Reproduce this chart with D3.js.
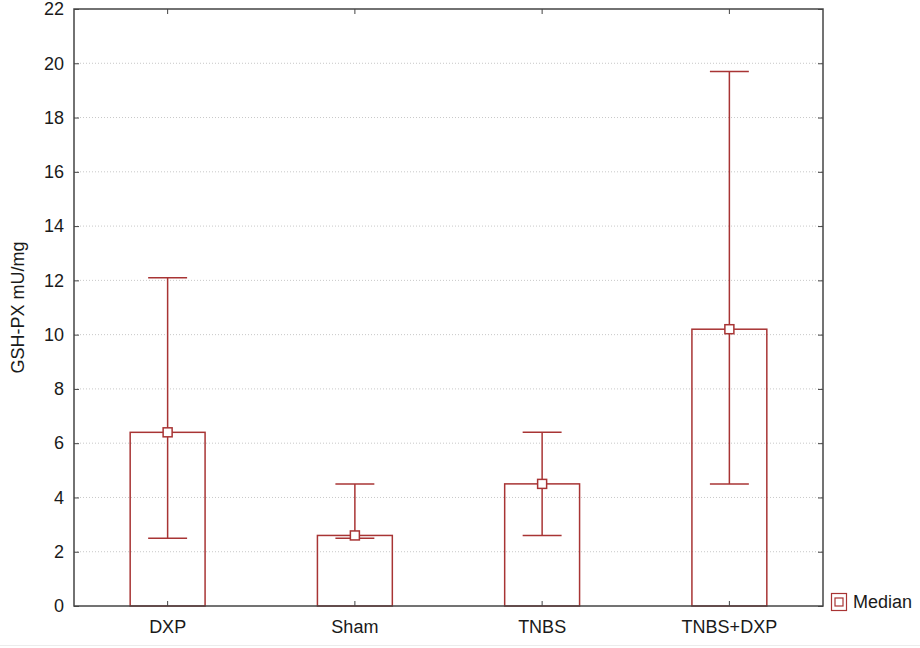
<!DOCTYPE html>
<html>
<head>
<meta charset="utf-8">
<script src="https://cdn.jsdelivr.net/npm/d3@7"></script>
<style>
  html, body { margin: 0; padding: 0; background: #fff; }
  svg { display: block; font-family: "Liberation Sans", Arial, sans-serif; }
</style>
</head>
<body>
<svg id="chart" width="920" height="648"></svg>
<script>
// GSH-PX activity per group: median with min–max range
const categories = ["DXP", "Sham", "TNBS", "TNBS+DXP"];
const medians = [6.4, 2.6, 4.5, 10.2];
const lows = [2.5, 2.5, 2.6, 4.5];
const highs = [12.1, 4.5, 6.4, 19.7];
const yTicks = [0, 2, 4, 6, 8, 10, 12, 14, 16, 18, 20, 22];
const yLabel = "GSH-PX mU/mg";
const legendLabel = "Median";

const W = 920, H = 648;
const plot = { left: 74, right: 823, top: 9, bottom: 606 };
const RED = "#a83434";
const AXIS = "#444";

const svg = d3.select("#chart");

const x = d3.scaleBand().domain(categories).range([plot.left, plot.right]).padding(0);
const y = d3.scaleLinear().domain([0, 22]).range([plot.bottom, plot.top]);

const rows = categories.map((c, i) => ({ cat: c, med: medians[i], lo: lows[i], hi: highs[i] }));
const barW = x.bandwidth() * 0.4;
const capW = barW * 0.52;
const cx = d => x(d.cat) + x.bandwidth() / 2;

// dotted horizontal grid
svg.append("g").selectAll("line")
  .data(yTicks.filter(t => t > 0 && t < 22))
  .join("line")
  .attr("x1", plot.left).attr("x2", plot.right)
  .attr("y1", d => y(d)).attr("y2", d => y(d))
  .attr("stroke", "#c8c8c8").attr("stroke-width", 1)
  .attr("stroke-dasharray", "1,2");

// bars up to the median
svg.append("g").selectAll("rect")
  .data(rows)
  .join("rect")
  .attr("x", d => cx(d) - barW / 2)
  .attr("width", barW)
  .attr("y", d => y(d.med))
  .attr("height", d => y(0) - y(d.med))
  .attr("fill", "none")
  .attr("stroke", RED).attr("stroke-width", 1.5);

// whiskers
const wg = svg.append("g").attr("stroke", RED).attr("stroke-width", 1.5);
wg.selectAll(".stem").data(rows).join("line")
  .attr("x1", cx).attr("x2", cx)
  .attr("y1", d => y(d.lo)).attr("y2", d => y(d.hi));
wg.selectAll(".capHi").data(rows).join("line")
  .attr("x1", d => cx(d) - capW / 2).attr("x2", d => cx(d) + capW / 2)
  .attr("y1", d => y(d.hi)).attr("y2", d => y(d.hi));
wg.selectAll(".capLo").data(rows).join("line")
  .attr("x1", d => cx(d) - capW / 2).attr("x2", d => cx(d) + capW / 2)
  .attr("y1", d => y(d.lo)).attr("y2", d => y(d.lo));

// median markers
svg.append("g").selectAll("rect")
  .data(rows)
  .join("rect")
  .attr("x", d => cx(d) - 4.5).attr("y", d => y(d.med) - 4.5)
  .attr("width", 9).attr("height", 9)
  .attr("fill", "#fff").attr("stroke", RED).attr("stroke-width", 1.5);

// axes with inward ticks
const tickLen = 5;
const yAxisL = d3.axisLeft(y).tickValues(yTicks).tickSize(-tickLen).tickPadding(10);
const gL = svg.append("g").attr("transform", `translate(${plot.left},0)`).call(yAxisL);
gL.select(".domain").remove();
gL.selectAll("line").attr("stroke", AXIS);
gL.selectAll("text").attr("font-size", 18).attr("fill", "#1a1a1a")
  .attr("font-family", "Liberation Sans, Arial, sans-serif");

const yAxisR = d3.axisRight(y).tickValues(yTicks).tickSize(-tickLen).tickFormat("");
const gR = svg.append("g").attr("transform", `translate(${plot.right},0)`).call(yAxisR);
gR.select(".domain").remove();
gR.selectAll("line").attr("stroke", AXIS);

const xAxisB = d3.axisBottom(x).tickSize(-tickLen).tickPadding(14);
const gB = svg.append("g").attr("transform", `translate(0,${plot.bottom})`).call(xAxisB);
gB.select(".domain").remove();
gB.selectAll("line").attr("stroke", AXIS);
gB.selectAll("text").attr("font-size", 18).attr("fill", "#1a1a1a")
  .attr("font-family", "Liberation Sans, Arial, sans-serif");

const xAxisT = d3.axisTop(x).tickSize(-tickLen).tickFormat("");
const gT = svg.append("g").attr("transform", `translate(0,${plot.top})`).call(xAxisT);
gT.select(".domain").remove();
gT.selectAll("line").attr("stroke", AXIS);

// plot frame
svg.append("rect")
  .attr("x", plot.left).attr("y", plot.top)
  .attr("width", plot.right - plot.left).attr("height", plot.bottom - plot.top)
  .attr("fill", "none").attr("stroke", AXIS).attr("stroke-width", 1.5);

// y-axis title
svg.append("text")
  .attr("transform", `translate(24,${(plot.top + plot.bottom) / 2}) rotate(-90)`)
  .attr("text-anchor", "middle")
  .attr("font-size", 18).attr("fill", "#1a1a1a")
  .text(yLabel);

// legend
const lg = svg.append("g").attr("transform", `translate(831,593)`);
lg.append("rect").attr("x", 0.5).attr("y", 0.5).attr("width", 15).attr("height", 17)
  .attr("fill", "#fff").attr("stroke", RED).attr("stroke-width", 1.2);
lg.append("rect").attr("x", 4).attr("y", 5).attr("width", 8).attr("height", 8)
  .attr("fill", "#fff").attr("stroke", RED).attr("stroke-width", 1.2);
lg.append("text").attr("x", 22).attr("y", 15)
  .attr("font-size", 18).attr("fill", "#1a1a1a").text(legendLabel);

// faint bottom rule
svg.append("line").attr("x1", 0).attr("x2", W).attr("y1", 645.5).attr("y2", 645.5)
  .attr("stroke", "#ececec").attr("stroke-width", 1);
</script>
</body>
</html>
